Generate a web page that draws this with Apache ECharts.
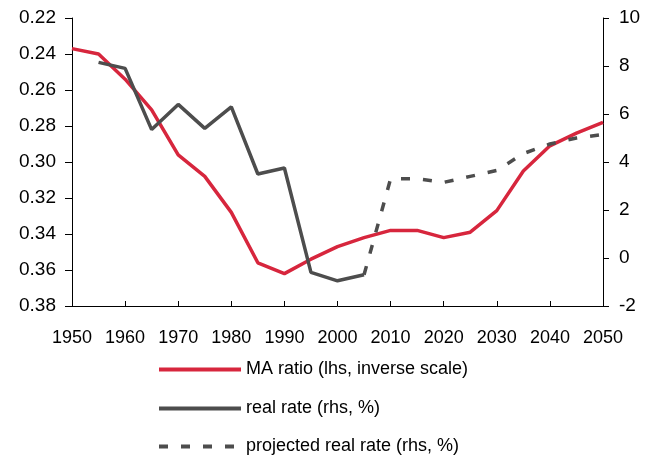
<!DOCTYPE html>
<html style="height: 100%">
<head>
    <script src="https://cdn.jsdelivr.net/npm/echarts@6/dist/echarts.min.js"></script>
</head>
<body style="height: 100%; margin: 0">
    <div id="main" style="width: 657px; height: 456px"></div>
    <script type="text/javascript">
    var chartDom = document.getElementById('main');
    var myChart = echarts.init(chartDom);

    // data, 5-year steps
    var maYears = [1950,1955,1960,1965,1970,1975,1980,1985,1990,1995,2000,2005,2010,2015,2020,2025,2030,2035,2040,2045,2050];
    var maRatio = [0.237,0.240,0.254,0.271,0.296,0.308,0.328,0.356,0.362,0.354,0.347,0.342,0.338,0.338,0.342,0.339,0.327,0.305,0.291,0.284,0.278];

    var realYears = [1955,1960,1965,1970,1975,1980,1985,1990,1995,2000,2005];
    var realRate = [8.15,7.9,5.35,6.4,5.4,6.3,3.5,3.75,-0.6,-0.95,-0.7];

    var projYears = [2005,2010,2015,2020,2025,2030,2035,2040,2045,2050];
    var projRate = [-0.7,3.3,3.3,3.15,3.4,3.65,4.35,4.75,5.0,5.15];

    var seriesNames = ['MA ratio (lhs, inverse scale)', 'real rate (rhs, %)', 'projected real rate (rhs, %)'];

    function pairs(xs, ys) {
        return xs.map(function (x, i) { return [x, ys[i]]; });
    }

    var red = '#d7263d';
    var grey = '#4d4d4d';
    var font = 'Arial, "Liberation Sans", sans-serif';

    // one legend per row so the rows sit where the reference puts them
    var legendTops = [354, 393, 431];
    var legends = seriesNames.map(function (name, i) {
        return {
            orient: 'vertical',
            left: 157,
            top: legendTops[i],
            padding: 0,
            itemWidth: 82,
            itemHeight: 20,
            itemStyle: { opacity: 0 },
            lineStyle: { width: 4 },
            textStyle: { fontSize: 18, color: '#000', fontFamily: font, padding: [0, 0, 0, 0] },
            data: [name]
        };
    });

    var option = {
        backgroundColor: '#fff',
        animation: false,
        textStyle: { fontFamily: font },
        grid: { left: 72, right: 54, top: 18, bottom: 150 },
        legend: legends,
        xAxis: {
            type: 'value',
            min: 1950,
            max: 2050,
            interval: 10,
            splitLine: { show: false },
            axisLine: { onZero: false, lineStyle: { color: '#000' } },
            axisTick: { inside: true, length: 5, lineStyle: { color: '#000' } },
            axisLabel: {
                color: '#000', fontSize: 18, margin: 17,
                formatter: function (v) { return String(v); }
            }
        },
        yAxis: [
            {
                type: 'value',
                min: 0.22,
                max: 0.38,
                interval: 0.02,
                inverse: true,
                splitLine: { show: false },
                axisLine: { show: true, lineStyle: { color: '#000' } },
                axisTick: { show: true, length: 7, lineStyle: { color: '#000' } },
                axisLabel: {
                    color: '#000', fontSize: 19, margin: 16,
                    formatter: function (v) { return v.toFixed(2); }
                }
            },
            {
                type: 'value',
                min: -2,
                max: 10,
                interval: 2,
                position: 'right',
                splitLine: { show: false },
                axisLine: { show: true, lineStyle: { color: '#000' } },
                axisTick: { show: true, length: 6, lineStyle: { color: '#000' } },
                axisLabel: { color: '#000', fontSize: 19, margin: 16 }
            }
        ],
        series: [
            {
                name: seriesNames[0],
                type: 'line',
                yAxisIndex: 0,
                symbol: 'none',
                lineStyle: { color: red, width: 3.5 },
                itemStyle: { color: red },
                data: pairs(maYears, maRatio)
            },
            {
                name: seriesNames[1],
                type: 'line',
                yAxisIndex: 1,
                symbol: 'none',
                lineStyle: { color: grey, width: 3.5 },
                itemStyle: { color: grey },
                data: pairs(realYears, realRate)
            },
            {
                name: seriesNames[2],
                type: 'line',
                yAxisIndex: 1,
                symbol: 'none',
                lineStyle: { color: grey, width: 3.5, type: [9, 13] },
                itemStyle: { color: grey },
                data: pairs(projYears, projRate)
            }
        ]
    };

    myChart.setOption(option);
    </script>
</body>
</html>
